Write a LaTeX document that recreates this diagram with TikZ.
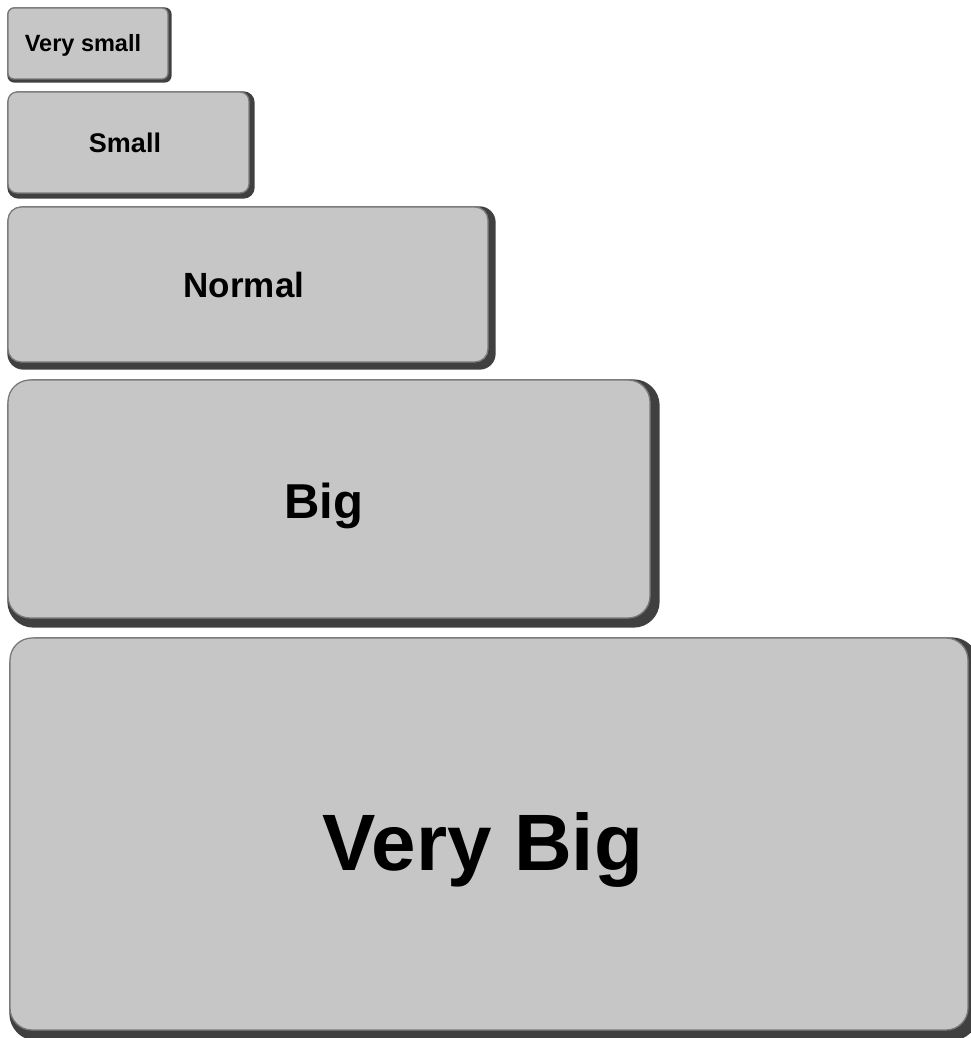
\documentclass[tikz,border=0pt]{standalone}
\usepackage{fontspec}
\setmainfont{Liberation Sans}
\usetikzlibrary{backgrounds}
\definecolor{btnfill}{HTML}{C6C6C6}
\definecolor{btnline}{HTML}{7A7A7A}
\definecolor{btnshadow}{HTML}{404040}
\tikzset{
  btn/.style={rectangle, draw=btnline, fill=btnfill, line width=1.3pt,
    inner sep=0pt, align=center, text=black, font=\bfseries},
  btnshade/.style={fill=btnshadow},
}
\begin{document}
\begin{tikzpicture}[x=1pt,y=-1pt]
\useasboundingbox (0,0) rectangle (970,1038);
% Very small: (8,8)-(168,79)
\node[btn, rounded corners=6pt, minimum width=160pt, minimum height=71pt,
  text height=16.5pt, text depth=0pt, font=\bfseries\fontsize{23.5}{28}\selectfont]
  (vs) at (88,43.5) {Very small\hspace*{10pt}};
% Small: (8,92)-(249,193)
\node[btn, rounded corners=9pt, minimum width=241pt, minimum height=101pt,
  text height=19.5pt, text depth=0pt, font=\bfseries\fontsize{27}{32}\selectfont]
  (s) at (128.5,142.5) {Small\hspace*{7pt}};
% Normal: (8,207)-(488,362)
\node[btn, rounded corners=13pt, minimum width=480pt, minimum height=155pt,
  text height=25pt, text depth=0pt, font=\bfseries\fontsize{35}{42}\selectfont]
  (n) at (248,284.5) {Normal\hspace*{8pt}};
% Big: (8,380)-(650,618)
\node[btn, rounded corners=22pt, minimum width=642pt, minimum height=238pt,
  text height=38pt, text depth=0pt, font=\bfseries\fontsize{49}{58}\selectfont]
  (b) at (329,499) {Big\hspace*{10pt}};
% Very Big: (10,638)-(968,1030)
\node[btn, rounded corners=22pt, minimum width=958pt, minimum height=392pt,
  text height=72pt, text depth=0pt, font=\bfseries\fontsize{80}{96}\selectfont]
  (vb) at (489,834) {Very Big\hspace*{12pt}};
\begin{pgfonlayer}{background}
  \fill[btnshade, rounded corners=7pt] (vs.north west) rectangle ([shift={(3pt,-3pt)}]vs.south east);
  \fill[btnshade, rounded corners=11pt] (s.north west) rectangle ([shift={(5pt,-5pt)}]s.south east);
  \fill[btnshade, rounded corners=16pt] (n.north west) rectangle ([shift={(7pt,-7pt)}]n.south east);
  \fill[btnshade, rounded corners=26pt] (b.north west) rectangle ([shift={(9pt,-9pt)}]b.south east);
  \fill[btnshade, rounded corners=27pt] (vb.north west) rectangle ([shift={(10pt,-10pt)}]vb.south east);
\end{pgfonlayer}
\end{tikzpicture}
\end{document}
